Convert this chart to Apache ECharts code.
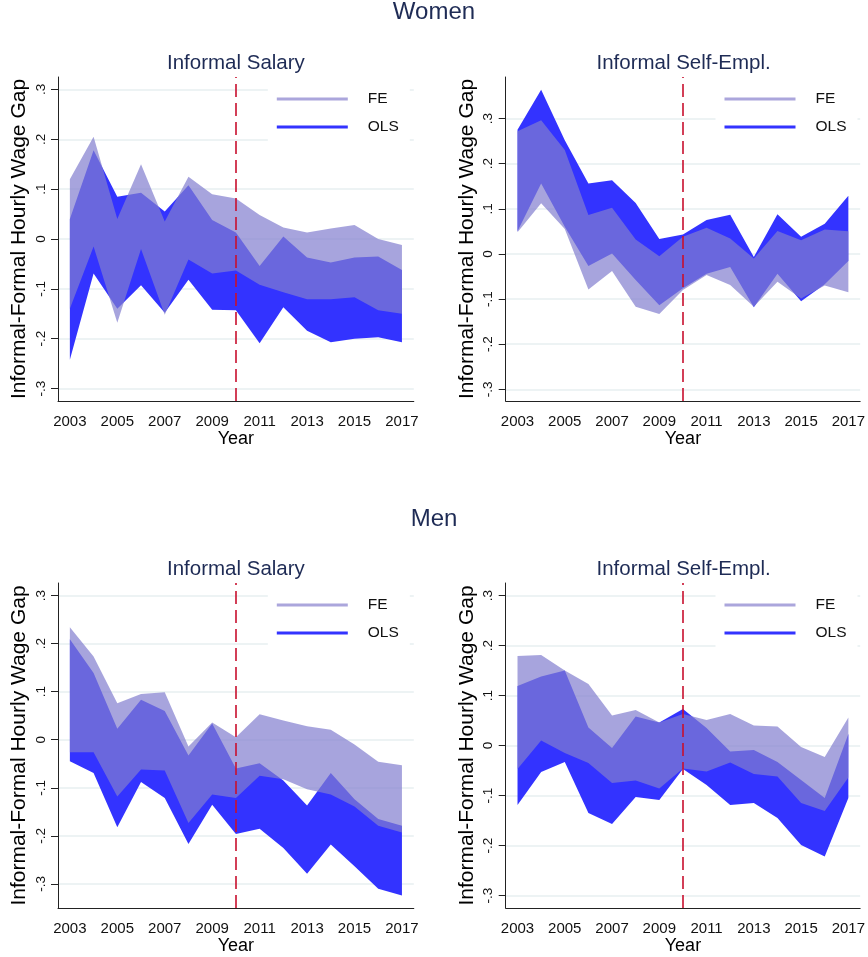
<!DOCTYPE html>
<html><head><meta charset="utf-8">
<script src="https://cdn.jsdelivr.net/npm/echarts@6/dist/echarts.min.js"></script>
<style>html,body{margin:0;padding:0;background:#fff}#c{width:868px;height:957px}</style>
</head><body><div id="c"></div>
<script>
const years = ['2003','2004','2005','2006','2007','2008','2009','2010','2011','2012','2013','2014','2015','2016','2017'];
const yTicks = [-0.3,-0.2,-0.1,0,0.1,0.2,0.3];
const breakYear = '2010';

// Women - Informal Salary
const wSalFeHi  = [0.12, 0.205, 0.04, 0.15, 0.035, 0.125, 0.09, 0.081, 0.048, 0.023, 0.013, 0.021, 0.028, 0.0, -0.012];
const wSalFeLo  = [-0.14, -0.015, -0.168, -0.02, -0.152, -0.041, -0.069, -0.063, -0.092, -0.107, -0.121, -0.121, -0.117, -0.143, -0.15];
const wSalOlsHi = [0.04, 0.178, 0.085, 0.093, 0.055, 0.108, 0.038, 0.013, -0.054, 0.005, -0.037, -0.047, -0.037, -0.035, -0.062];
const wSalOlsLo = [-0.242, -0.069, -0.14, -0.093, -0.148, -0.082, -0.142, -0.143, -0.209, -0.137, -0.184, -0.207, -0.2, -0.197, -0.207];
// Women - Informal Self-Empl.
const wSelfFeHi  = [0.272, 0.296, 0.23, 0.086, 0.102, 0.032, -0.005, 0.038, 0.058, 0.034, -0.01, 0.051, 0.03, 0.054, 0.05];
const wSelfFeLo  = [0.048, 0.112, 0.055, -0.079, -0.038, -0.117, -0.133, -0.08, -0.047, -0.069, -0.117, -0.062, -0.099, -0.07, -0.085];
const wSelfOlsHi = [0.275, 0.364, 0.252, 0.156, 0.163, 0.113, 0.033, 0.043, 0.075, 0.087, -0.007, 0.088, 0.038, 0.067, 0.129];
const wSelfOlsLo = [0.05, 0.156, 0.06, -0.027, 0.001, -0.058, -0.114, -0.076, -0.044, -0.029, -0.118, -0.044, -0.105, -0.067, -0.016];
// Men - Informal Salary
const mSalFeHi  = [0.234, 0.173, 0.076, 0.095, 0.099, -0.014, 0.036, 0.005, 0.053, 0.04, 0.028, 0.021, -0.01, -0.046, -0.053];
const mSalFeLo  = [-0.026, -0.026, -0.118, -0.062, -0.064, -0.173, -0.114, -0.121, -0.075, -0.082, -0.103, -0.114, -0.139, -0.179, -0.193];
const mSalOlsHi = [0.209, 0.139, 0.023, 0.083, 0.06, -0.033, 0.034, -0.06, -0.049, -0.085, -0.137, -0.069, -0.124, -0.165, -0.179];
const mSalOlsLo = [-0.045, -0.069, -0.182, -0.088, -0.121, -0.217, -0.135, -0.196, -0.185, -0.225, -0.279, -0.218, -0.263, -0.31, -0.324];
// Men - Informal Self-Empl.
const mSelfFeHi  = [0.179, 0.181, 0.15, 0.123, 0.06, 0.071, 0.046, 0.063, 0.051, 0.063, 0.04, 0.038, -0.003, -0.023, 0.056];
const mSelfFeLo  = [-0.047, 0.01, -0.015, -0.035, -0.075, -0.07, -0.086, -0.046, -0.052, -0.034, -0.057, -0.062, -0.115, -0.131, -0.064];
const mSelfOlsHi = [0.119, 0.138, 0.15, 0.036, -0.005, 0.058, 0.046, 0.073, 0.035, -0.012, -0.009, -0.033, -0.069, -0.105, 0.023];
const mSelfOlsLo = [-0.119, -0.053, -0.033, -0.135, -0.157, -0.103, -0.109, -0.047, -0.079, -0.119, -0.115, -0.145, -0.199, -0.222, -0.105];

const FONT = 'Liberation Sans, Arial, sans-serif';
const NAVY = '#1e2b55';
const FE_LINE = '#aba6dc';
const OLS_COLOR = '#3333ff';
const FE_AREA = 'rgba(130,125,206,0.70)';

const panels = [
  {title:'Informal Salary',     feHi:wSalFeHi,  feLo:wSalFeLo,  olsHi:wSalOlsHi,  olsLo:wSalOlsLo,  min:-0.325, max:0.325, left:58,    top:77,  height:324},
  {title:'Informal Self-Empl.', feHi:wSelfFeHi, feLo:wSelfFeLo, olsHi:wSelfOlsHi, olsLo:wSelfOlsLo, min:-0.326, max:0.392, left:505.7, top:77,  height:324},
  {title:'Informal Salary',     feHi:mSalFeHi,  feLo:mSalFeLo,  olsHi:mSalOlsHi,  olsLo:mSalOlsLo,  min:-0.35,  max:0.326, left:58,    top:583, height:325},
  {title:'Informal Self-Empl.', feHi:mSelfFeHi, feLo:mSelfFeLo, olsHi:mSelfOlsHi, olsLo:mSelfOlsLo, min:-0.325, max:0.325, left:505.7, top:583, height:325}
];
const W = 355.8;

function fmtY(v){
  if (Math.abs(v) < 1e-9) return '0';
  return (v < 0 ? '-' : '') + Math.abs(v).toFixed(1).replace(/^0/, '');
}

const grid = [], xAxis = [], yAxis = [], series = [], legend = [];
const title = [
  {text:'Women', left:434, textAlign:'center', top:0, padding:0, textStyle:{fontSize:24, fontWeight:'normal', color:NAVY, fontFamily:FONT}},
  {text:'Men',   left:434, textAlign:'center', top:507, padding:0, textStyle:{fontSize:24, fontWeight:'normal', color:NAVY, fontFamily:FONT}}
];

panels.forEach((p, i) => {
  grid.push({left:p.left, top:p.top, width:W, height:p.height, containLabel:false});
  title.push({text:p.title, left:p.left + W/2, textAlign:'center', top:p.top - 24, padding:0,
    textStyle:{fontSize:20.5, fontWeight:'normal', color:NAVY, fontFamily:FONT}});
  xAxis.push({
    type:'category', gridIndex:i, data:years, boundaryGap:true,
    name:'Year', nameLocation:'middle', nameGap:28,
    nameTextStyle:{fontSize:18, color:'#000', fontFamily:FONT},
    axisLine:{onZero:false, lineStyle:{color:'#222', width:1}},
    axisTick:{alignWithLabel:true, interval:1, length:6, lineStyle:{color:'#222'}},
    axisLabel:{interval:1, fontSize:15, color:'#111', fontFamily:FONT, margin:13},
    splitLine:{show:false}
  });
  yAxis.push({
    type:'value', gridIndex:i, min:p.min, max:p.max,
    name:'Informal-Formal Hourly Wage Gap', nameLocation:'middle', nameGap:28, nameRotate:90,
    nameTextStyle:{fontSize:21, color:'#000', fontFamily:FONT},
    axisLine:{show:true, onZero:false, lineStyle:{color:'#222', width:1}},
    axisTick:{show:true, length:7, customValues:yTicks, lineStyle:{color:'#222'}},
    axisLabel:{rotate:90, fontSize:13.5, color:'#111', fontFamily:FONT, margin:10, customValues:yTicks, formatter:fmtY},
    splitLine:{show:true, lineStyle:{color:'#e7eff1', width:1.5}}
  });
  const common = {type:'line', xAxisIndex:i, yAxisIndex:i, symbol:'none', silent:true, stackStrategy:'all'};
  series.push(Object.assign({}, common, {name:'OLS_base'+i, stack:'ols'+i, data:p.olsLo, lineStyle:{width:0, opacity:0}}));
  series.push(Object.assign({}, common, {name:'OLS', stack:'ols'+i, color:OLS_COLOR,
    data:p.olsHi.map((v,k)=>+(v - p.olsLo[k]).toFixed(4)),
    lineStyle:{width:0, opacity:0}, areaStyle:{color:OLS_COLOR, opacity:1}}));
  series.push(Object.assign({}, common, {name:'FE_base'+i, stack:'fe'+i, data:p.feLo, lineStyle:{width:0, opacity:0}}));
  series.push(Object.assign({}, common, {name:'FE', stack:'fe'+i, color:FE_LINE,
    data:p.feHi.map((v,k)=>+(v - p.feLo[k]).toFixed(4)),
    lineStyle:{width:0, opacity:0}, areaStyle:{color:FE_AREA, opacity:1}}));
  series.push({type:'line', name:'break'+i, xAxisIndex:i, yAxisIndex:i, symbol:'none', silent:true, z:10,
    data:p.olsLo, lineStyle:{opacity:0},
    markLine:{silent:true, symbol:'none', label:{show:false}, animation:false,
      lineStyle:{color:'#c8102e', type:[13,6], width:1.6},
      data:[{xAxis:breakYear}]}});
  legend.push({
    left:p.left + W - 146, top:p.top + 4, orient:'vertical', selectedMode:false,
    backgroundColor:'#fff', padding:[10,11,10,9], itemGap:12,
    itemWidth:71, itemHeight:3, z:5,
    formatter:'{a|{name}}',
    textStyle:{fontSize:15.5, color:'#111', fontFamily:FONT, rich:{a:{fontSize:15.5, color:'#111', fontFamily:FONT, padding:[0,0,0,15], lineHeight:17}}},
    data:[
      {name:'FE', icon:'rect', itemStyle:{color:FE_LINE}},
      {name:'OLS', icon:'rect', itemStyle:{color:OLS_COLOR}}
    ]
  });
});

const chart = echarts.init(document.getElementById('c'), null, {renderer:'canvas'});
chart.setOption({animation:false, backgroundColor:'#fff', title, grid, xAxis, yAxis, series, legend});
</script>
</body></html>
